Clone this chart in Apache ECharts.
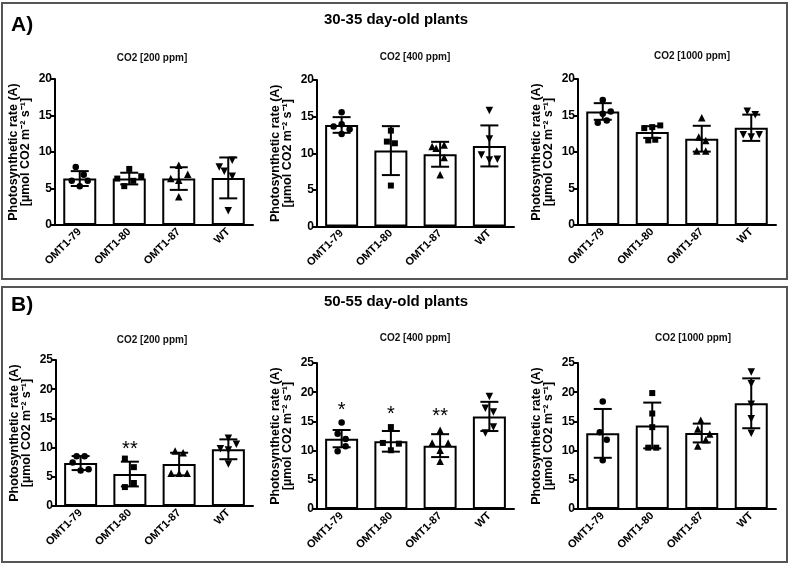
<!DOCTYPE html>
<html><head><meta charset="utf-8">
<script src="https://cdn.jsdelivr.net/npm/echarts/dist/echarts.min.js"></script>
<style>html,body{margin:0;padding:0;background:#fff}#c{width:791px;height:564px}</style>
</head><body><div id="c"></div>
<script>
// ---- data ----
const categories = ['OMT1-79', 'OMT1-80', 'OMT1-87', 'WT'];
const yTicksA = [0, 5, 10, 15, 20];
const yTicksB = [0, 5, 10, 15, 20, 25];

// A) 30-35 day-old plants
const a200Mean = [6.36, 6.36, 6.36, 6.45];
const a200Sd   = [1.02, 0.80, 1.55, 2.80];
const a200Pts  = [[7.95, 6.9, 6.05, 5.3, 6.05], [7.68, 6.36, 6.05, 6.68, 5.32], [8.18, 6.36, 6.95, 6.14, 3.86], [7.95, 7.36, 8.86, 6.68, 1.95]];
const a400Mean = [13.86, 10.36, 9.86, 11.0];
const a400Sd   = [1.07, 3.34, 1.70, 2.80];
const a400Pts  = [[15.59, 13.64, 13.95, 13.27, 12.64], [13.09, 11.59, 11.36, 5.59], [10.91, 10.68, 11.14, 9.41, 7.05], [15.82, 11.95, 9.77, 9.09, 9.18]];
const a1000Mean = [15.55, 12.73, 11.82, 13.32];
const a1000Sd   = [1.14, 0.80, 1.77, 1.80];
const a1000Pts  = [[17.14, 15.55, 15.23, 14.0, 14.32], [13.27, 13.41, 13.64, 11.59, 11.68], [14.68, 12.05, 11.59, 10.14, 10.14], [15.59, 15.09, 12.36, 12.05, 12.36]];

// B) 50-55 day-old plants
const b200Mean = [7.35, 5.47, 7.18, 9.71];
const b200Sd   = [1.20, 2.12, 1.94, 1.70];
const b200Pts  = [[8.53, 8.53, 7.47, 6.06, 6.29], [8.12, 6.65, 3.94, 3.24], [9.41, 9.12, 5.59, 5.59, 5.59], [11.59, 9.82, 10.59, 9.59, 7.18]];
const b400Mean = [12.05, 11.59, 10.85, 15.85];
const b400Sd   = [1.48, 1.77, 1.96, 2.50];
const b400Pts  = [[14.83, 12.9, 11.99, 10.74, 9.89], [14.03, 11.31, 11.19, 10.06], [13.47, 11.31, 11.31, 10.06, 8.18], [19.26, 17.27, 16.59, 14.03, 13.01]];
const b1000Mean = [12.95, 14.3, 13.01, 18.1];
const b1000Sd   = [4.18, 3.92, 1.61, 4.27];
const b1000Pts  = [[18.39, 13.13, 11.84, 8.33], [19.85, 16.35, 14.01, 10.5, 10.5], [15.18, 13.71, 12.84, 11.84, 10.79], [23.48, 21.43, 17.92, 15.47, 12.95]];

// significance marks (text and value height)
const b200Sig  = ['', '**', '', ''];
const b200SigY = [null, 10.6, null, null];
const b400Sig  = ['*', '*', '**', ''];
const b400SigY = [17.8, 17.1, 16.7, null];

// horizontal jitter of points (pixels, styling only)
const a200Jit  = [[-4, 4, -8, 0, 8], [0, -12, 4, 12, -5], [0, -8, 9, 0, 0], [-9, -4, 4, 4, 0]];
const a400Jit  = [[0, -8, 0, 8, 0], [0, -4, 4, 0], [-8, -4, 4, 4, 0], [0, 0, -8, 0, 8]];
const a1000Jit = [[0, 8, 0, -5, 4], [-8, 0, 8, -4, 3], [0, -3, 4, -5, 4], [-4, 4, -8, 0, 8]];
const b200Jit  = [[-4, 4, -8, 0, 8], [-5, 4, 4, -5], [-4, 4, -8, 0, 8], [0, -8, 8, 0, 0]];
const b400Jit  = [[0, -4, 4, 4, -4], [0, -8, 8, 0], [0, -8, 8, 0, 0], [0, -4, 4, 4, -4]];
const b1000Jit = [[0, -3, 4, 0], [0, 0, 0, -4, 4], [-1, -4, 8, 4, -4], [0, 0, 0, 0, 0]];

// ---- layout / style ----
const FONT = '"Liberation Sans", Arial, Helvetica, sans-serif';
const panels = [
  {mean: a200Mean, sd: a200Sd, pts: a200Pts, jit: a200Jit, ticks: yTicksA, title: 'CO2 [200 ppm]', grid: {left: 55, top: 79, width: 198, height: 146}, tx: 152, ty: 58},
  {mean: a400Mean, sd: a400Sd, pts: a400Pts, jit: a400Jit, ticks: yTicksA, title: 'CO2 [400 ppm]', grid: {left: 317, top: 80, width: 197, height: 146.5}, tx: 415, ty: 57},
  {mean: a1000Mean, sd: a1000Sd, pts: a1000Pts, jit: a1000Jit, ticks: yTicksA, title: 'CO2 [1000 ppm]', grid: {left: 578, top: 79, width: 198, height: 146}, tx: 692, ty: 56},
  {mean: b200Mean, sd: b200Sd, pts: b200Pts, jit: b200Jit, ticks: yTicksB, title: 'CO2 [200 ppm]', grid: {left: 56, top: 360, width: 197, height: 146}, tx: 152, ty: 340, sig: b200Sig, sigY: b200SigY},
  {mean: b400Mean, sd: b400Sd, pts: b400Pts, jit: b400Jit, ticks: yTicksB, title: 'CO2 [400 ppm]', grid: {left: 317, top: 363, width: 197, height: 146}, tx: 415, ty: 338, sig: b400Sig, sigY: b400SigY},
  {mean: b1000Mean, sd: b1000Sd, pts: b1000Pts, jit: b1000Jit, ticks: yTicksB, title: 'CO2 [1000 ppm]', grid: {left: 578, top: 363, width: 198, height: 146}, tx: 693, ty: 338}
];
const symbols = ['circle', 'rect', 'triangle', 'triangle'];
const rotations = [0, 0, 0, 180];
const symSizes = [6.5, 6, 7.5, 7.5];

const grid = [], xAxis = [], yAxis = [], series = [];
const graphic = [
  {type: 'rect', shape: {x: 2, y: 3, width: 785, height: 276}, style: {fill: 'none', stroke: '#555', lineWidth: 2}},
  {type: 'rect', shape: {x: 2, y: 287, width: 785, height: 275}, style: {fill: 'none', stroke: '#555', lineWidth: 2}},
  {type: 'text', style: {text: 'A)', x: 11, y: 25, font: 'bold 21px ' + FONT, fill: '#000', textAlign: 'left', textVerticalAlign: 'middle'}},
  {type: 'text', style: {text: '30-35 day-old plants', x: 396, y: 20, font: 'bold 15px ' + FONT, fill: '#000', textAlign: 'center', textVerticalAlign: 'middle'}},
  {type: 'text', style: {text: 'B)', x: 11, y: 305, font: 'bold 21px ' + FONT, fill: '#000', textAlign: 'left', textVerticalAlign: 'middle'}},
  {type: 'text', style: {text: '50-55 day-old plants', x: 396, y: 302, font: 'bold 15px ' + FONT, fill: '#000', textAlign: 'center', textVerticalAlign: 'middle'}}
];

panels.forEach((p, i) => {
  grid.push(Object.assign({containLabel: false}, p.grid));
  graphic.push({type: 'text', style: {text: p.title, x: p.tx, y: p.ty, font: 'bold 10px ' + FONT, fill: '#111', textAlign: 'center', textVerticalAlign: 'middle'}});
  xAxis.push({
    type: 'category', gridIndex: i, data: categories,
    axisLine: {lineStyle: {color: '#000', width: 2}},
    axisTick: {alignWithLabel: true, length: 5, lineStyle: {color: '#000', width: 2}},
    axisLabel: {interval: 0, rotate: 45, margin: 5, color: '#000', fontWeight: 'bold', fontSize: 11, fontFamily: FONT},
    splitLine: {show: false}
  });
  const t = p.ticks;
  yAxis.push({
    type: 'value', gridIndex: i, min: t[0], max: t[t.length - 1], interval: t[1] - t[0],
    name: 'Photosynthetic rate (A)\n[µmol CO2 m⁻² s⁻¹]',
    nameLocation: 'middle', nameGap: 23,
    nameTextStyle: {color: '#000', fontWeight: 'bold', fontSize: 12.5, lineHeight: 12, fontFamily: FONT},
    axisLine: {show: true, lineStyle: {color: '#000', width: 2}},
    axisTick: {show: true, length: 5, lineStyle: {color: '#000', width: 2}},
    axisLabel: {color: '#000', fontWeight: 'bold', fontSize: 12, margin: 3, fontFamily: FONT},
    splitLine: {show: false}
  });
  series.push({
    type: 'bar', xAxisIndex: i, yAxisIndex: i, data: p.mean, barWidth: 33, silent: true, z: 2,
    itemStyle: {color: '#fff', borderColor: '#000', borderWidth: 2}
  });
  series.push({
    type: 'custom', xAxisIndex: i, yAxisIndex: i, z: 3, silent: true,
    data: p.mean.map((m, j) => [j, m, p.sd[j]]),
    renderItem: (params, api) => {
      const j = api.value(0), m = api.value(1), s = api.value(2);
      const top = api.coord([j, m + s]), bot = api.coord([j, m - s]);
      const hw = 9, st = {stroke: '#000', lineWidth: 2};
      return {type: 'group', children: [
        {type: 'line', shape: {x1: top[0], y1: top[1], x2: bot[0], y2: bot[1]}, style: st},
        {type: 'line', shape: {x1: top[0] - hw, y1: top[1], x2: top[0] + hw, y2: top[1]}, style: st},
        {type: 'line', shape: {x1: bot[0] - hw, y1: bot[1], x2: bot[0] + hw, y2: bot[1]}, style: st}
      ]};
    }
  });
  const pts = [];
  p.pts.forEach((arr, j) => arr.forEach((v, k) => pts.push({
    value: [j, v], symbol: symbols[j], symbolRotate: rotations[j], symbolSize: symSizes[j],
    symbolOffset: [p.jit[j][k], 0]
  })));
  series.push({
    type: 'scatter', xAxisIndex: i, yAxisIndex: i, z: 4, silent: true, data: pts,
    itemStyle: {color: '#000', opacity: 1}
  });
  if (p.sig) {
    const sd = [];
    p.sig.forEach((s, j) => { if (s) sd.push([j, p.sigY[j], s]); });
    series.push({
      type: 'custom', xAxisIndex: i, yAxisIndex: i, z: 5, silent: true,
      data: sd.map(d => [d[0], d[1]]),
      renderItem: (params, api) => {
        const c = api.coord([api.value(0), api.value(1)]);
        return {type: 'text', style: {text: sd[params.dataIndex][2], x: c[0], y: c[1] + 5, font: '20px ' + FONT, fill: '#000', textAlign: 'center', textVerticalAlign: 'middle'}};
      }
    });
  }
});

const chart = echarts.init(document.getElementById('c'), null, {renderer: 'canvas'});
chart.setOption({animation: false, backgroundColor: '#fff', grid, xAxis, yAxis, series, graphic});
</script>
</body></html>
